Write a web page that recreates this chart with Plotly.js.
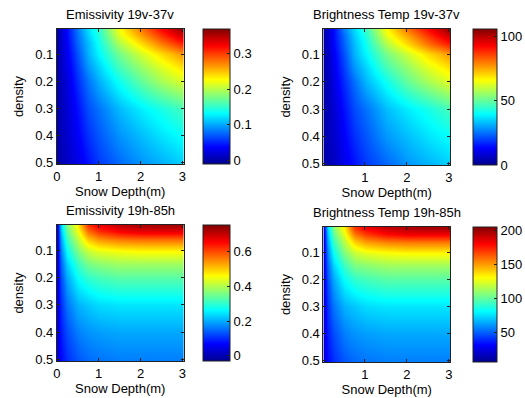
<!DOCTYPE html>
<html><head><meta charset="utf-8">
<script src="https://cdn.plot.ly/plotly-3.0.1.min.js"></script>
<style>html,body{margin:0;padding:0;background:#fff}#chart{width:525px;height:398px}</style>
</head><body><div id="chart"></div>
<script>
// Snow depth (m) columns and density rows of the sampled grid
const depth = [0, 0.1, 0.25, 0.5, 0.75, 1, 1.5, 2, 2.5, 3];
const density = [0.01, 0.03, 0.06, 0.1, 0.15, 0.2, 0.3, 0.4, 0.5];

// Emissivity 19v-37v (rows = density, cols = depth)
const emis19v37v = [
  [0.000, 0.016, 0.039, 0.084, 0.119, 0.149, 0.225, 0.275, 0.320, 0.359],
  [0.000, 0.016, 0.039, 0.080, 0.115, 0.145, 0.218, 0.263, 0.305, 0.343],
  [0.000, 0.016, 0.035, 0.077, 0.107, 0.138, 0.199, 0.240, 0.279, 0.313],
  [0.000, 0.012, 0.031, 0.069, 0.103, 0.130, 0.176, 0.210, 0.240, 0.267],
  [0.000, 0.012, 0.027, 0.061, 0.092, 0.115, 0.157, 0.187, 0.214, 0.237],
  [0.000, 0.008, 0.023, 0.054, 0.080, 0.103, 0.138, 0.168, 0.195, 0.214],
  [0.000, 0.008, 0.019, 0.042, 0.065, 0.080, 0.107, 0.126, 0.141, 0.157],
  [0.000, 0.008, 0.016, 0.035, 0.054, 0.069, 0.092, 0.107, 0.122, 0.134],
  [0.000, 0.004, 0.012, 0.027, 0.042, 0.058, 0.077, 0.092, 0.103, 0.115]
];
// Brightness Temp 19v-37v
const tb19v37v = [
  [3, 7, 14, 27, 36, 45, 66, 80, 92, 103],
  [3, 7, 14, 25, 35, 43, 64, 76, 88, 99],
  [3, 7, 13, 24, 33, 41, 58, 70, 81, 90],
  [3, 6, 12, 22, 32, 39, 52, 61, 70, 77],
  [3, 6, 11, 20, 29, 35, 47, 55, 63, 69],
  [3, 5, 10, 18, 25, 32, 41, 50, 57, 63],
  [3, 5, 8, 15, 21, 25, 33, 38, 42, 47],
  [3, 5, 7, 13, 18, 22, 29, 33, 37, 40],
  [3, 4, 6, 11, 15, 19, 24, 29, 32, 35]
];
// Emissivity 19h-85h
const emis19h85h = [
  [0.033, 0.228, 0.362, 0.471, 0.612, 0.659, 0.698, 0.714, 0.722, 0.722],
  [0.033, 0.213, 0.338, 0.448, 0.565, 0.612, 0.651, 0.667, 0.667, 0.667],
  [0.033, 0.189, 0.307, 0.408, 0.495, 0.534, 0.557, 0.565, 0.565, 0.565],
  [0.033, 0.166, 0.268, 0.362, 0.416, 0.440, 0.455, 0.463, 0.463, 0.463],
  [0.033, 0.142, 0.228, 0.307, 0.354, 0.369, 0.385, 0.385, 0.385, 0.385],
  [0.033, 0.127, 0.197, 0.268, 0.299, 0.315, 0.330, 0.330, 0.330, 0.330],
  [0.033, 0.103, 0.158, 0.205, 0.221, 0.236, 0.244, 0.244, 0.244, 0.244],
  [0.033, 0.088, 0.127, 0.166, 0.181, 0.189, 0.197, 0.197, 0.197, 0.197],
  [0.033, 0.072, 0.103, 0.134, 0.150, 0.158, 0.166, 0.166, 0.166, 0.166]
];
// Brightness Temp 19h-85h
const tb19h85h = [
  [22, 72, 106, 133, 169, 181, 191, 195, 197, 197],
  [22, 68, 100, 127, 157, 169, 179, 183, 183, 183],
  [22, 62, 92, 117, 139, 149, 155, 157, 157, 157],
  [22, 56, 82, 106, 119, 125, 129, 131, 131, 131],
  [22, 50, 72, 92, 104, 107, 111, 111, 111, 111],
  [22, 46, 64, 82, 90, 94, 98, 98, 98, 98],
  [22, 40, 54, 66, 70, 74, 76, 76, 76, 76],
  [22, 36, 46, 56, 60, 62, 64, 64, 64, 64],
  [22, 32, 40, 48, 52, 54, 56, 56, 56, 56]
];

const titles = ['Emissivity 19v-37v', 'Brightness Temp 19v-37v', 'Emissivity 19h-85h', 'Brightness Temp 19h-85h'];
const xTitle = 'Snow Depth(m)';
const yTitle = 'density';
const cbTickVals = [[0, 0.1, 0.2, 0.3], [0, 50, 100], [0, 0.2, 0.4, 0.6], [50, 100, 150, 200]];
const cbRanges = [[-0.011, 0.37], [0, 106], [-0.03, 0.753], [6, 205]];
const xTickVals = [[0, 1, 2, 3], [1, 2, 3], [0, 1, 2, 3], [1, 2, 3]];
const yTickVals = [0.1, 0.2, 0.3, 0.4, 0.5];

const W = 525, H = 398;
// pixel boxes: [left, right, top, bottom] for plots and colorbars
const plotBox = [[57, 184, 29, 164], [324, 451, 29, 165], [57, 184, 225, 361], [324, 451, 227, 362]];
const cbBox = [[203, 231, 29, 164], [473, 498, 29, 165], [203, 231, 225, 361], [473, 498, 227, 362]];
const xRanges = [[0, 3.03], [0.01, 3.03], [0, 3.03], [0.01, 3.03]];
const yRanges = [[0.504, 0.007], [0.504, 0.007], [0.507, 0.005], [0.507, 0.005]];

const jet = [[0, '#00008f'], [0.125, '#0000ff'], [0.375, '#00ffff'], [0.625, '#ffff00'], [0.875, '#ff0000'], [1, '#800000']];
const font = {family: 'Liberation Sans, Arial, sans-serif', size: 13, color: '#000'};
const zs = [emis19v37v, tb19v37v, emis19h85h, tb19h85h];

const data = [];
const layout = {
  width: W, height: H, margin: {l: 0, r: 0, t: 0, b: 0},
  paper_bgcolor: '#fff', plot_bgcolor: '#fff', font: font, showlegend: false,
  annotations: []
};
for (let i = 0; i < 4; i++) {
  const p = plotBox[i], c = cbBox[i];
  const sfx = i === 0 ? '' : String(i + 1);
  data.push({
    type: 'heatmap', x: depth, y: density, z: zs[i],
    xaxis: 'x' + sfx, yaxis: 'y' + sfx,
    colorscale: jet, zmin: cbRanges[i][0], zmax: cbRanges[i][1], zsmooth: 'best',
    hoverinfo: 'skip',
    colorbar: {
      x: c[0] / W, xanchor: 'left', xpad: 0, ypad: 0,
      y: 1 - (c[2] + c[3]) / 2 / H, yanchor: 'middle',
      len: (c[3] - c[2]) / H, lenmode: 'fraction',
      thickness: c[1] - c[0] - 1, thicknessmode: 'pixels',
      outlinewidth: 1, outlinecolor: '#222',
      tickmode: 'array', tickvals: cbTickVals[i], ticks: 'inside', ticklen: 3, tickcolor: '#222',
      tickfont: font
    }
  });
  const ax = {
    domain: [p[0] / W, p[1] / W], range: xRanges[i], anchor: 'y' + sfx,
    tickmode: 'array', tickvals: xTickVals[i], ticks: 'inside', ticklen: 3, tickcolor: '#222',
    showline: true, linecolor: '#222', linewidth: 1, mirror: 'ticks', showgrid: false, zeroline: false,
    tickfont: font, title: {text: xTitle, font: font, standoff: 4}
  };
  const ay = {
    domain: [1 - p[3] / H, 1 - p[2] / H], range: yRanges[i], anchor: 'x' + sfx,
    tickmode: 'array', tickvals: yTickVals, ticks: 'inside', ticklen: 3, tickcolor: '#222',
    showline: true, linecolor: '#222', linewidth: 1, mirror: 'ticks', showgrid: false, zeroline: false,
    tickfont: font, title: {text: yTitle, font: font, standoff: 8}
  };
  layout['xaxis' + sfx] = ax;
  layout['yaxis' + sfx] = ay;
  layout.annotations.push({
    text: titles[i], xref: 'paper', yref: 'paper', showarrow: false,
    x: (p[0] + p[1]) / 2 / W, y: 1 - p[2] / H, xanchor: 'center', yanchor: 'bottom', yshift: 5, font: font
  });
}
Plotly.newPlot('chart', data, layout, {staticPlot: true, displayModeBar: false});
</script></body></html>
